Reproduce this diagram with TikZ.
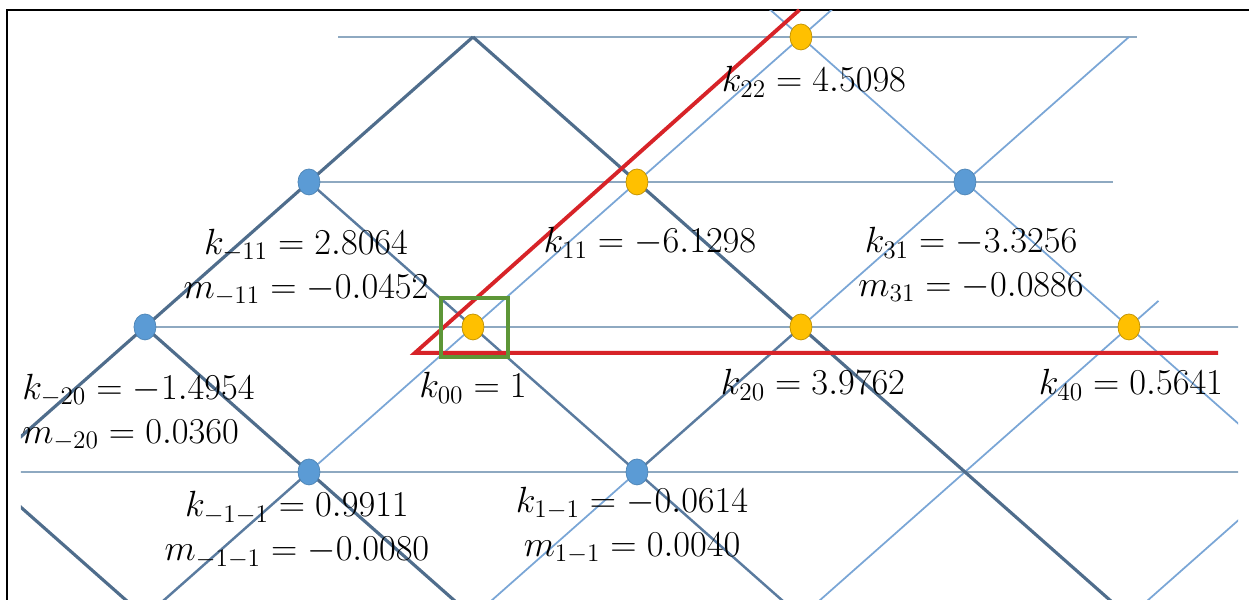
\documentclass[tikz,border=0pt]{standalone}
\usepackage{tikz}
\usetikzlibrary{shapes.geometric}
\definecolor{gridblue}{RGB}{142,169,193}
\definecolor{darkblue}{RGB}{79,109,140}
\definecolor{lightblue}{RGB}{122,166,214}
\definecolor{dotblue}{RGB}{91,155,213}
\definecolor{dotgold}{RGB}{255,192,0}
\definecolor{boxgreen}{RGB}{93,150,55}
\definecolor{pathred}{RGB}{215,35,40}

\begin{document}
\begin{tikzpicture}[x=3.28cm, y=2.9cm,
    hline/.style={gridblue, line width=1.6pt},
    dline/.style={darkblue, line width=1.8pt},
    mline/.style={darkblue!75!lightblue, line width=1.4pt},
    lline/.style={lightblue, line width=1.0pt},
    bdot/.style={ellipse, fill=dotblue, draw=dotblue!85!black, inner sep=0pt, minimum width=0.44cm, minimum height=0.52cm},
    gdot/.style={ellipse, fill=dotgold, draw=dotgold!75!black, inner sep=0pt, minimum width=0.44cm, minimum height=0.52cm},
    val/.style={font=\fontsize{20.74}{25}\selectfont, align=center, inner sep=0pt}
]
    \useasboundingbox (-2.884,2.255) rectangle (4.732,-1.883);

    % frame
    \draw[black, line width=1.1pt] (-2.841,-1.9) -- (-2.841,2.186) -- (4.74,2.186);

    % lattice
    \begin{scope}
        \clip (-2.756,2.18) rectangle (4.665,-1.9);
        \draw[hline] (-0.82,2) -- (4.05,2);
        \draw[hline] (-1,1) -- (3.9,1);
        \draw[hline] (-2,0) -- (4.7,0);
        \draw[hline] (-2.8,-1) -- (4.7,-1);

        \draw[dline] (-4,-2) -- (0,2);
        \draw[mline] (-2,-2) -- (-1,-1);
        \draw[lline] (-1,-1) -- (2.3,2.3);
        \draw[lline] (0,-2) -- (1,-1);
        \draw[mline] (1,-1) -- (2,0);
        \draw[lline] (2,0) -- (4,2);
        \draw[lline] (2,-2) -- (4.18,0.18);
        \draw[lline] (4,-2) -- (5,-1);

        \draw[dline] (-3.6,-0.4) -- (-2,-2);
        \draw[dline] (-2,0) -- (0,-2);
        \draw[mline] (-1,1) -- (2,-2);
        \draw[dline] (0,2) -- (4,-2);
        \draw[lline] (1.7,2.3) -- (5,-1);
    \end{scope}

    % path and start box
    \draw[pathred, line width=2.2pt, line join=miter] (1.99,2.186) -- (-0.354,-0.179) -- (4.543,-0.179);
    \draw[boxgreen, line width=2.2pt] (-0.195,0.2) rectangle (0.213,-0.207);

    % points
    \node[bdot] (nm20) at (-2,0) {};
    \node[bdot] (nm11) at (-1,1) {};
    \node[bdot] (n31) at (3,1) {};
    \node[bdot] (nm1m1) at (-1,-1) {};
    \node[bdot] (n1m1) at (1,-1) {};
    \node[gdot] (n00) at (0,0) {};
    \node[gdot] (n11) at (1,1) {};
    \node[gdot] (n22) at (2,2) {};
    \node[gdot] (n20) at (2,0) {};
    \node[gdot] (n40) at (4,0) {};

    % values
    \node[val] (lk22) at (2.079,1.69) {$k_{22} = 4.5098$};
    \node[val] (lk11) at (1.079,0.58) {$k_{11} = -6.1298$};
    \node[val] (lkm11) at (-1.018,0.41) {$k_{-11} = 2.8064$\\$m_{-11} = -0.0452$};
    \node[val] (lk31) at (3.037,0.43) {$k_{31} = -3.3256$\\$m_{31} = -0.0886$};
    \node[val, anchor=west, align=left] (lkm20) at (-2.75,-0.59) {$k_{-20} = -1.4954$\\$m_{-20} = 0.0360$};
    \node[val] (lk00) at (0,-0.42) {$k_{00} = 1$};
    \node[val] (lk20) at (2.073,-0.40) {$k_{20} = 3.9762$};
    \node[val] (lk40) at (4.012,-0.40) {$k_{40} = 0.5641$};
    \node[val] (lkm1m1) at (-1.073,-1.40) {$k_{-1-1} = 0.9911$\\$m_{-1-1} = -0.0080$};
    \node[val] (lk1m1) at (0.97,-1.37) {$k_{1-1} = -0.0614$\\$m_{1-1} = 0.0040$};
\end{tikzpicture}
\end{document}
